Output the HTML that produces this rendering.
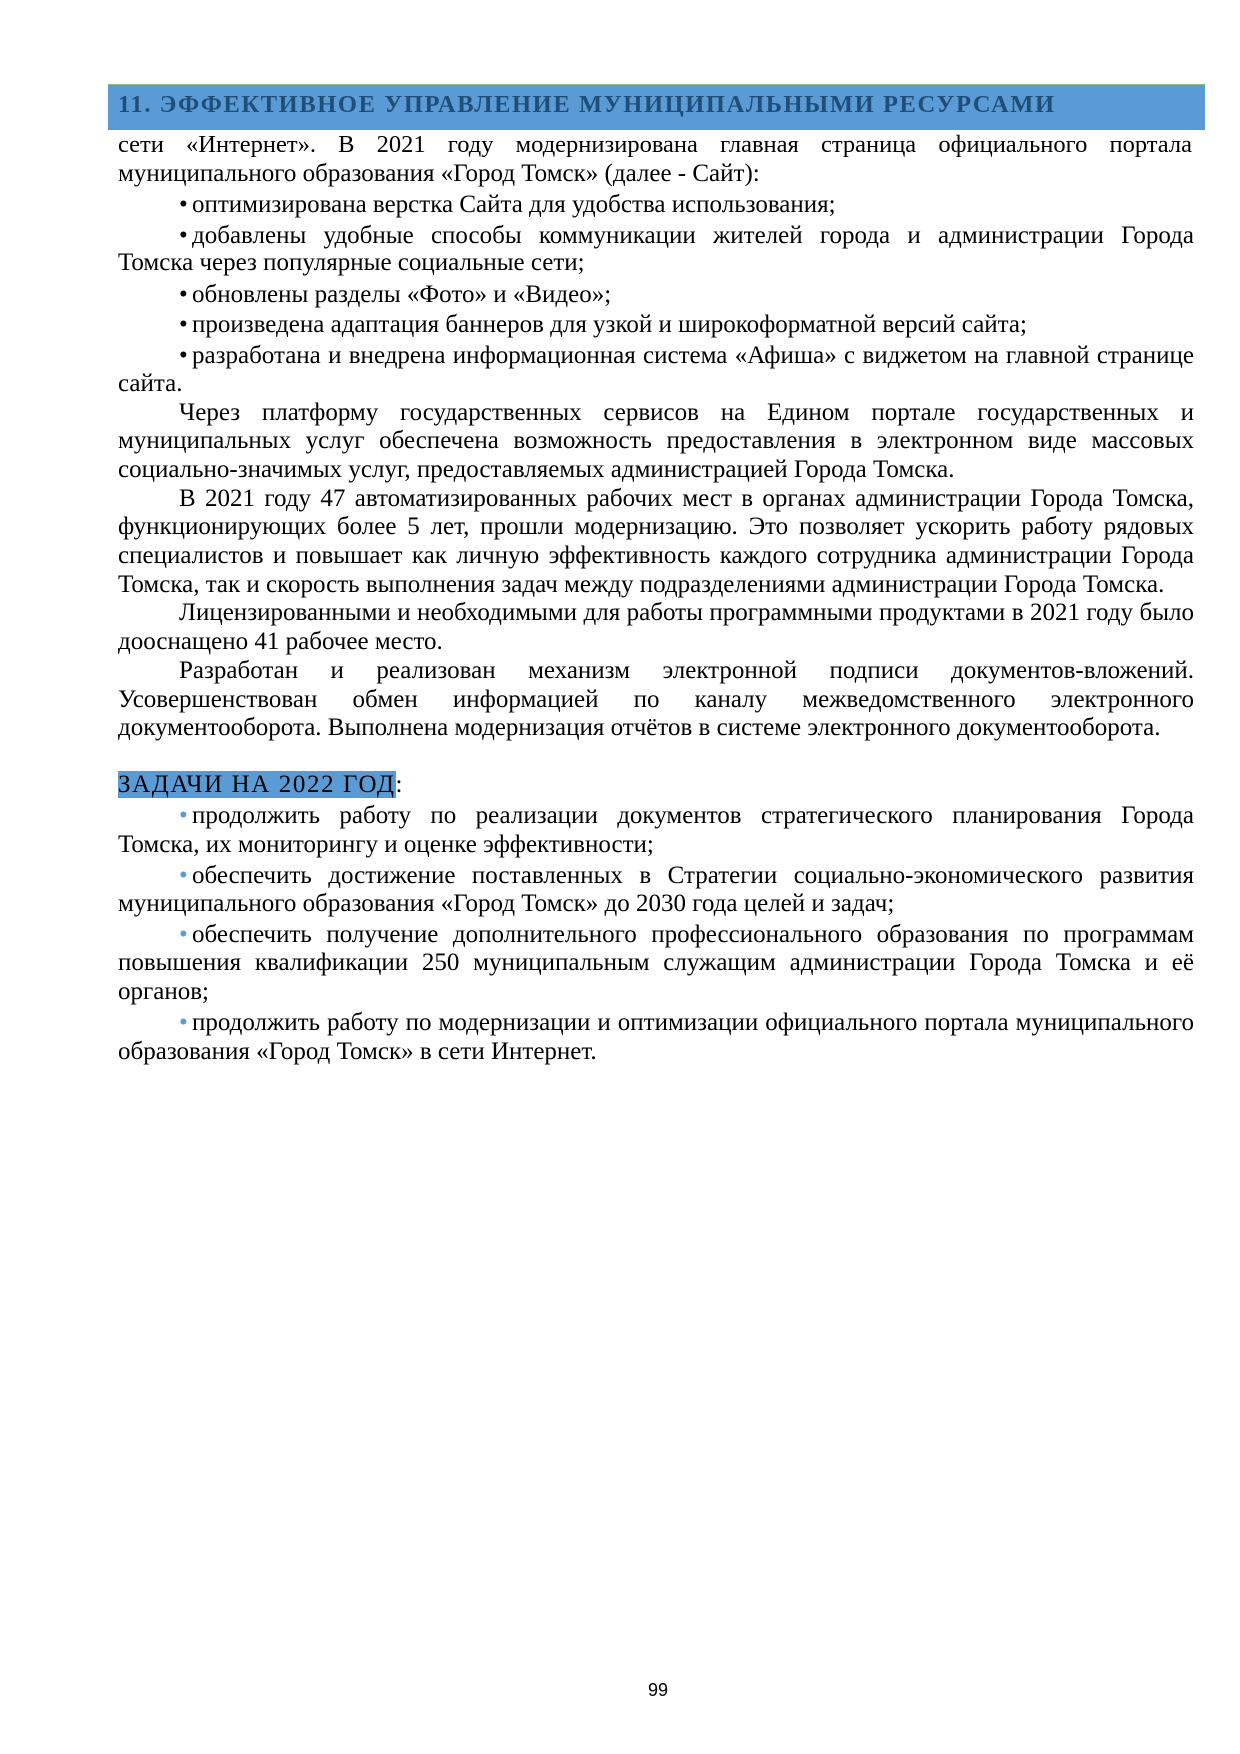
<!DOCTYPE html>
<html><head><meta charset="utf-8"><style>
html,body{margin:0;padding:0;background:#fff}
body{width:1240px;height:1754px;position:relative;overflow:hidden;font-family:"Liberation Serif","DejaVu Serif",serif;color:#000}
.l{position:absolute;left:118px;width:1076px;height:29px;line-height:29px;font-size:25px;white-space:nowrap;overflow:hidden}
.j{text-align:justify;text-align-last:justify;white-space:normal}
.i{left:179px;width:1015px}
.b{display:inline-block;width:13px}
.bb{color:#5b9bd5}
</style></head><body>
<div style="position:absolute;left:108px;top:84px;width:1097px;height:45px;background:#5b9bd5;border-top:1px solid #8fbf7f"></div>
<div style="position:absolute;left:118px;top:90px;height:30px;line-height:30px;font-size:24.5px;font-weight:bold;color:#1f4e79;letter-spacing:1.6px;white-space:nowrap">11. ЭФФЕКТИВНОЕ УПРАВЛЕНИЕ МУНИЦИПАЛЬНЫМИ РЕСУРСАМИ</div>

<div class="l j" style="top:130px;font-size:24.5px;width:1074px">сети «Интернет». В 2021 году модернизирована главная страница официального портала</div>
<div class="l" style="top:159px">муниципального образования «Город Томск» (далее - Сайт):</div>
<div class="l i" style="top:190px"><span class="b">•</span>оптимизирована верстка Сайта для удобства использования;</div>
<div class="l i j" style="top:221px"><span class="b">•</span>добавлены удобные способы коммуникации жителей города и администрации Города</div>
<div class="l" style="top:248px">Томска через популярные социальные сети;</div>
<div class="l i" style="top:280px"><span class="b">•</span>обновлены разделы «Фото» и «Видео»;</div>
<div class="l i" style="top:310px"><span class="b">•</span>произведена адаптация баннеров для узкой и широкоформатной версий сайта;</div>
<div class="l i j" style="top:341px"><span class="b">•</span>разработана и внедрена информационная система «Афиша» с виджетом на главной странице</div>
<div class="l" style="top:369px">сайта.</div>
<div class="l i j" style="top:398px">Через платформу государственных сервисов на Едином портале государственных и</div>
<div class="l j" style="top:426px">муниципальных услуг обеспечена возможность предоставления в электронном виде массовых</div>
<div class="l" style="top:455px">социально-значимых услуг, предоставляемых администрацией Города Томска.</div>
<div class="l i j" style="top:484px">В 2021 году 47 автоматизированных рабочих мест в органах администрации Города Томска,</div>
<div class="l j" style="top:512px">функционирующих более 5 лет, прошли модернизацию. Это позволяет ускорить работу рядовых</div>
<div class="l j" style="top:541px">специалистов и повышает как личную эффективность каждого сотрудника администрации Города</div>
<div class="l" style="top:570px">Томска, так и скорость выполнения задач между подразделениями администрации Города Томска.</div>
<div class="l i j" style="top:598px">Лицензированными и необходимыми для работы программными продуктами в 2021 году было</div>
<div class="l" style="top:627px">дооснащено 41 рабочее место.</div>
<div class="l i j" style="top:656px">Разработан и реализован механизм электронной подписи документов-вложений.</div>
<div class="l j" style="top:685px">Усовершенствован обмен информацией по каналу межведомственного электронного</div>
<div class="l" style="top:713px">документооборота. Выполнена модернизация отчётов в системе электронного документооборота.</div>

<div class="l" style="top:770px;letter-spacing:1.6px"><span style="background:#5b9bd5">ЗАДАЧИ НА 2022 ГОД</span>:</div>

<div class="l i j" style="top:801px"><span class="b bb">•</span>продолжить работу по реализации документов стратегического планирования Города</div>
<div class="l" style="top:830px">Томска, их мониторингу и оценке эффективности;</div>
<div class="l i j" style="top:861px"><span class="b bb">•</span>обеспечить достижение поставленных в Стратегии социально-экономического развития</div>
<div class="l" style="top:889px">муниципального образования «Город Томск» до 2030 года целей и задач;</div>
<div class="l i j" style="top:920px"><span class="b bb">•</span>обеспечить получение дополнительного профессионального образования по программам</div>
<div class="l j" style="top:948px">повышения квалификации 250 муниципальным служащим администрации Города Томска и её</div>
<div class="l" style="top:977px">органов;</div>
<div class="l i j" style="top:1008px"><span class="b bb">•</span>продолжить работу по модернизации и оптимизации официального портала муниципального</div>
<div class="l" style="top:1037px">образования «Город Томск» в сети Интернет.</div>

<div style="position:absolute;left:618px;width:80px;top:1678px;text-align:center;font-family:'Liberation Sans','DejaVu Sans',sans-serif;font-size:18px;line-height:24px">99</div>
</body></html>
